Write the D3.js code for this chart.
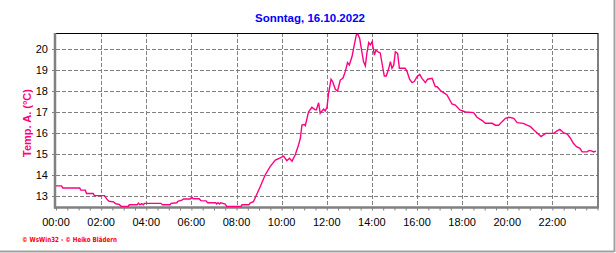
<!DOCTYPE html>
<html><head><meta charset="utf-8">
<script src="https://cdn.jsdelivr.net/npm/d3@7"></script>
<style>
html,body{margin:0;padding:0;background:#fff;}
svg{display:block;font-family:"Liberation Sans",Arial,sans-serif;}
</style></head>
<body>
<svg id="c" width="616" height="253"></svg>
<script>
const title = "Sonntag, 16.10.2022";
const yLabel = "Temp. A. (°C)";
const footer = "© WsWin32  -  © Heiko Blädern";
const yTicks = [13,14,15,16,17,18,19,20];
const xTickHours = [0,2,4,6,8,10,12,14,16,18,20,22];
const xTickLabels = ["00:00","02:00","04:00","06:00","08:00","10:00","12:00","14:00","16:00","18:00","20:00","22:00"];
// time of day in hours
const hours = [0.00,0.25,0.30,1.05,1.10,1.30,1.35,1.65,1.70,2.15,2.25,2.35,2.55,2.65,2.80,2.90,3.20,3.25,3.60,3.65,3.72,3.80,3.88,3.92,4.65,4.72,5.05,5.10,5.35,5.40,5.58,5.65,5.95,6.02,6.08,6.35,6.42,6.65,6.72,7.08,7.12,7.18,7.25,7.30,7.50,7.57,8.20,8.25,8.55,8.60,8.75,9.05,9.27,9.49,9.72,9.94,10.09,10.23,10.35,10.46,10.60,10.75,10.83,10.90,11.00,11.05,11.19,11.34,11.49,11.54,11.64,11.71,11.86,11.93,12.01,12.08,12.19,12.26,12.38,12.48,12.60,12.72,12.82,12.92,13.00,13.12,13.22,13.31,13.38,13.46,13.53,13.63,13.71,13.78,13.86,13.93,14.01,14.11,14.18,14.27,14.37,14.45,14.55,14.64,14.75,14.82,14.89,14.97,15.04,15.14,15.22,15.48,15.56,15.67,15.78,15.88,16.00,16.12,16.22,16.37,16.47,16.67,16.81,16.89,17.04,17.11,17.33,17.55,17.70,17.90,18.15,18.51,18.66,18.89,19.03,19.33,19.48,19.62,19.77,19.92,20.07,20.29,20.44,20.71,20.88,21.03,21.18,21.35,21.50,21.70,22.06,22.21,22.33,22.51,22.66,22.80,22.93,23.07,23.22,23.32,23.54,23.63,23.76,23.83,23.93];
const temps = [13.48,13.48,13.38,13.38,13.28,13.28,13.12,13.12,13.02,13.02,12.85,12.75,12.72,12.63,12.60,12.50,12.50,12.58,12.58,12.66,12.58,12.64,12.58,12.65,12.65,12.58,12.58,12.65,12.68,12.75,12.80,12.86,12.86,12.95,12.87,12.87,12.78,12.77,12.68,12.68,12.62,12.68,12.62,12.68,12.62,12.50,12.50,12.58,12.58,12.66,12.73,13.44,14.00,14.40,14.71,14.82,14.90,14.68,14.80,14.66,14.95,15.43,15.75,16.38,16.40,16.35,17.00,17.22,17.10,17.10,17.44,16.94,17.14,17.05,17.22,17.89,18.56,18.45,18.08,18.00,18.52,18.62,18.92,19.35,19.24,19.64,20.19,20.67,20.70,20.50,20.03,19.40,19.20,19.80,20.30,20.19,20.35,19.71,19.94,19.86,19.81,19.32,18.71,18.71,19.08,19.40,19.08,19.24,19.87,19.79,19.08,19.08,18.92,18.56,18.40,18.45,18.68,18.79,18.60,18.40,18.56,18.60,18.21,18.20,18.02,17.97,17.81,17.38,17.33,17.10,17.00,16.97,16.75,16.59,16.46,16.46,16.37,16.37,16.54,16.70,16.75,16.70,16.49,16.46,16.37,16.30,16.14,15.98,15.83,15.98,15.98,16.10,16.17,16.00,15.95,15.75,15.51,15.35,15.27,15.10,15.10,15.17,15.14,15.10,15.14];

const svg = d3.select("#c");
const L = 56, R = 597.5, T = 33, B = 206.5;
const x = d3.scaleLinear().domain([0,24]).range([L,R]);
const y = d3.scaleLinear().domain([12.5,20.76]).range([B,T]);
const pink = "#ff0080";

svg.append("rect").attr("width",616).attr("height",253).attr("fill","#fff");

// outer grey border lines
svg.append("line").attr("x1",0).attr("x2",614).attr("y1",251.5).attr("y2",251.5).attr("stroke","#a0a0a0").attr("stroke-width",2);
svg.append("line").attr("x1",614.5).attr("x2",614.5).attr("y1",0).attr("y2",252).attr("stroke","#a0a0a0").attr("stroke-width",2);

// title
svg.append("text").attr("x",310).attr("y",22).attr("text-anchor","middle")
  .attr("font-size",11.5).attr("font-weight","bold").attr("fill","#0000ff").text(title);

// grid
const grid = svg.append("g").attr("stroke","#808080").attr("stroke-width",1).attr("stroke-dasharray","4,2");
yTicks.forEach(v=>{ grid.append("line").attr("x1",L).attr("x2",R).attr("y1",Math.round(y(v))+0.5).attr("y2",Math.round(y(v))+0.5); });
xTickHours.filter(h=>h>0).forEach(h=>{ grid.append("line").attr("x1",Math.round(x(h))+0.5).attr("x2",Math.round(x(h))+0.5).attr("y1",T).attr("y2",B); });

// frame top/right (black)
svg.append("line").attr("x1",L).attr("x2",R+0.5).attr("y1",T+0.5).attr("y2",T+0.5).attr("stroke","#000");
svg.append("line").attr("x1",R+0.5).attr("x2",R+0.5).attr("y1",T).attr("y2",B+2).attr("stroke","#000");

// x axis
const xMinor = d3.range(0,24.01,0.5);
const xAxis = d3.axisBottom(x).tickValues(xMinor).tickSize(3).tickFormat("");
const gx = svg.append("g").attr("transform",`translate(0,${B+1})`).call(xAxis);
gx.select(".domain").attr("stroke","#808080").attr("stroke-width",2.5).attr("d",`M${L-2},0H${R}`);
gx.selectAll(".tick line").attr("stroke","#808080");
svg.selectAll(".xl").data(xTickHours).enter().append("text").attr("class","xl")
  .attr("x",h=>x(h)).attr("y",226).attr("text-anchor","middle").attr("font-size",11).attr("fill","#000")
  .text((h,i)=>xTickLabels[i]);

// y axis
const yAxis = d3.axisLeft(y).tickValues(yTicks).tickSize(3).tickPadding(4).tickFormat(d3.format("d"));
const gy = svg.append("g").attr("transform",`translate(${L-1},0)`).call(yAxis);
gy.select(".domain").attr("stroke","#808080").attr("stroke-width",2.5).attr("d",`M0,${T}V${B+2}`);
gy.selectAll(".tick line").attr("stroke","#808080");
gy.selectAll(".tick text").attr("font-size",11).attr("fill","#000").attr("font-family","Liberation Sans, Arial, sans-serif");

// y label
svg.append("text").attr("transform","translate(31,123) rotate(-90)").attr("text-anchor","middle")
  .attr("font-size",11).attr("font-weight","bold").attr("fill",pink).text(yLabel);

// data line
const pts = hours.map((h,i)=>[h,temps[i]]);
svg.append("path").datum(pts).attr("fill","none").attr("stroke",pink).attr("stroke-width",1.4)
  .attr("d",d3.line().x(d=>x(d[0])).y(d=>y(d[1])));

// footer
svg.append("text").attr("x",22).attr("y",242).attr("font-size",7).attr("font-weight","bold")
  .attr("fill","#ff0000").attr("font-family","DejaVu Sans, sans-serif")
  .attr("textLength",95).attr("lengthAdjust","spacingAndGlyphs").text(footer);
</script>
</body></html>
